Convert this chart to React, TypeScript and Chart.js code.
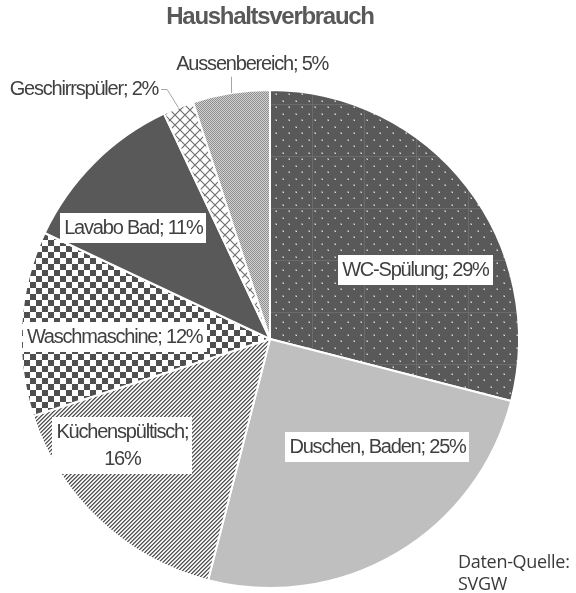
import React, { useEffect, useRef } from 'react';
import { Chart, registerables } from 'chart.js';

Chart.register(...registerables);

const TITLE = 'Haushaltsverbrauch';
const categories = [
  'WC-Spülung',
  'Duschen, Baden',
  'Küchenspültisch',
  'Waschmaschine',
  'Lavabo Bad',
  'Geschirrspüler',
  'Aussenbereich',
];
const shares = [29, 25, 16, 12, 11, 2, 5];
const sourceLines = ['Daten-Quelle:', 'SVGW'];

// label placement: angle (deg clockwise from top), radius fraction, kind
const labelLayout = [
  { angle: 64.5, r: 0.647, kind: 'inside', wrap: false },
  { angle: 135.1, r: 0.612, kind: 'inside', wrap: false },
  { angle: 234.3, r: 0.73, kind: 'inside', wrap: true },
  { angle: 270.9, r: 0.624, kind: 'inside', wrap: false },
  { angle: 309.1, r: 0.707, kind: 'inside', wrap: false },
  { angle: 335.9, r: 1.1, kind: 'outsideLeft', wrap: false },
  { angle: 356.3, r: 1.108, kind: 'outsideTop', wrap: false },
];

function makePattern(w: number, h: number, draw: (c: CanvasRenderingContext2D) => void) {
  const cv = document.createElement('canvas');
  cv.width = w;
  cv.height = h;
  const c = cv.getContext('2d')!;
  draw(c);
  return c.createPattern(cv, 'repeat')!;
}

function buildFills() {
  const wc = makePattern(52, 52, (c) => {
    c.fillStyle = '#595959';
    c.fillRect(0, 0, 52, 52);
    c.fillStyle = '#6b6b6b';
    c.fillRect(0, 0, 52, 1);
    c.fillRect(0, 0, 1, 52);
    for (let row = 0; row < 8; row++) {
      const y = row * 6.5 + 3;
      const off = row % 2 === 0 ? 3 : 9.5;
      for (let x = off; x < 52; x += 13) {
        c.fillStyle = '#8a8a8a';
        c.fillRect(Math.round(x) - 1, Math.round(y) - 1, 2, 2);
        c.fillStyle = '#d8d8d8';
        c.fillRect(Math.round(x), Math.round(y), 1, 1);
      }
    }
  });
  const stripes = makePattern(4, 4, (c) => {
    c.fillStyle = '#ffffff';
    c.fillRect(0, 0, 4, 4);
    for (let y = 0; y < 4; y++) {
      for (let x = 0; x < 4; x++) {
        const k = (x + y) % 4;
        if (k === 0) c.fillStyle = '#525252';
        else if (k === 1) c.fillStyle = '#8c8c8c';
        else if (k === 3) c.fillStyle = '#e0e0e0';
        else c.fillStyle = '#ffffff';
        c.fillRect(x, y, 1, 1);
      }
    }
  });
  const checker = makePattern(12, 12, (c) => {
    c.fillStyle = '#ffffff';
    c.fillRect(0, 0, 12, 12);
    c.fillStyle = '#4f4f4f';
    c.fillRect(0, 0, 6, 6);
    c.fillRect(6, 6, 6, 6);
  });
  const lattice = makePattern(10, 10, (c) => {
    c.fillStyle = '#ffffff';
    c.fillRect(0, 0, 10, 10);
    c.strokeStyle = '#707070';
    c.lineWidth = 1.2;
    c.beginPath();
    c.moveTo(-1, -1);
    c.lineTo(11, 11);
    c.moveTo(11, -1);
    c.lineTo(-1, 11);
    c.stroke();
  });
  const fine = makePattern(2, 2, (c) => {
    c.fillStyle = '#d2d2d2';
    c.fillRect(0, 0, 2, 2);
    c.fillStyle = '#8e8e8e';
    c.fillRect(0, 0, 1, 1);
    c.fillRect(1, 1, 1, 1);
  });
  return [wc, '#bfbfbf', stripes, checker, '#595959', lattice, fine];
}

const LABEL_FONT = '20px "Liberation Sans", Arial, sans-serif';

const labelPlugin = {
  id: 'pieLabels',
  afterDraw(chart: any) {
    const ctx: CanvasRenderingContext2D = chart.ctx;
    const meta = chart.getDatasetMeta(0);
    ctx.save();
    // title
    ctx.font = 'bold 24px "Liberation Sans", Arial, sans-serif';
    (ctx as any).letterSpacing = '-1.3px';
    ctx.fillStyle = '#595959';
    ctx.textAlign = 'center';
    ctx.textBaseline = 'middle';
    const a0 = meta.data[0];
    ctx.fillText(TITLE, a0.x, 17);

    ctx.font = LABEL_FONT;
    (ctx as any).letterSpacing = '-1.2px';
    meta.data.forEach((arc: any, i: number) => {
      const lay = labelLayout[i];
      const { x, y, outerRadius, startAngle, endAngle } = arc.getProps(
        ['x', 'y', 'outerRadius', 'startAngle', 'endAngle'],
        true
      );
      const ang = (lay.angle * Math.PI) / 180 - Math.PI / 2;
      const lx = x + Math.cos(ang) * outerRadius * lay.r;
      const ly = y + Math.sin(ang) * outerRadius * lay.r;
      const text = `${categories[i]}; ${shares[i]}%`;
      const lines = lay.wrap ? [`${categories[i]};`, `${shares[i]}%`] : [text];
      const lh = 27;
      const widths = lines.map((l) => ctx.measureText(l).width);
      const w = Math.max(...widths);
      ctx.textBaseline = 'middle';
      if (lay.kind === 'inside') {
        const bw = w + 8;
        const bh = lines.length * lh + 3;
        ctx.fillStyle = '#ffffff';
        ctx.fillRect(Math.round(lx - bw / 2), Math.round(ly - bh / 2), Math.round(bw), bh);
        ctx.fillStyle = '#404040';
        ctx.textAlign = 'center';
        lines.forEach((l, k) => {
          ctx.fillText(l, lx, ly - ((lines.length - 1) * lh) / 2 + k * lh + 1);
        });
      } else {
        const mid = (startAngle + endAngle) / 2;
        const ex = x + Math.cos(mid) * outerRadius;
        const ey = y + Math.sin(mid) * outerRadius;
        ctx.strokeStyle = '#a6a6a6';
        ctx.lineWidth = 1;
        ctx.fillStyle = '#404040';
        if (lay.kind === 'outsideLeft') {
          ctx.textAlign = 'right';
          ctx.fillText(text, lx, ly + 1);
          ctx.beginPath();
          ctx.moveTo(lx + 3, Math.round(ly) + 0.5);
          ctx.lineTo(lx + 9, Math.round(ly) + 0.5);
          ctx.lineTo(ex, ey);
          ctx.stroke();
        } else {
          ctx.textAlign = 'center';
          ctx.fillText(text, lx, ly + 1);
          ctx.beginPath();
          ctx.moveTo(Math.round(ex) + 0.5, ly + 13);
          ctx.lineTo(Math.round(ex) + 0.5, ey);
          ctx.stroke();
        }
      }
    });

    // source note
    ctx.font = '18px "Open Sans", sans-serif';
    (ctx as any).letterSpacing = '-0.3px';
    ctx.fillStyle = '#3a3a3a';
    ctx.textAlign = 'left';
    ctx.textBaseline = 'alphabetic';
    sourceLines.forEach((l, k) => ctx.fillText(l, 458, 568 + k * 22));
    ctx.restore();
  },
};

export default function App() {
  const ref = useRef<HTMLCanvasElement | null>(null);
  useEffect(() => {
    document.body.style.margin = '0';
    const canvas = ref.current!;
    const chart = new Chart(canvas, {
      type: 'pie',
      data: {
        labels: categories,
        datasets: [
          {
            data: shares,
            backgroundColor: buildFills() as any,
            borderColor: '#ffffff',
            borderWidth: 2,
          },
        ],
      },
      options: {
        responsive: false,
        animation: false,
        layout: { padding: { left: 20, right: 56, top: 88, bottom: 3 } },
        plugins: {
          legend: { display: false },
          tooltip: { enabled: false },
          title: { display: false },
        },
      },
      plugins: [labelPlugin],
    });
    return () => chart.destroy();
  }, []);
  return (
    <div style={{ width: 576, height: 593, background: '#fff' }}>
      <canvas ref={ref} width={576} height={593} style={{ display: 'block' }} />
    </div>
  );
}
